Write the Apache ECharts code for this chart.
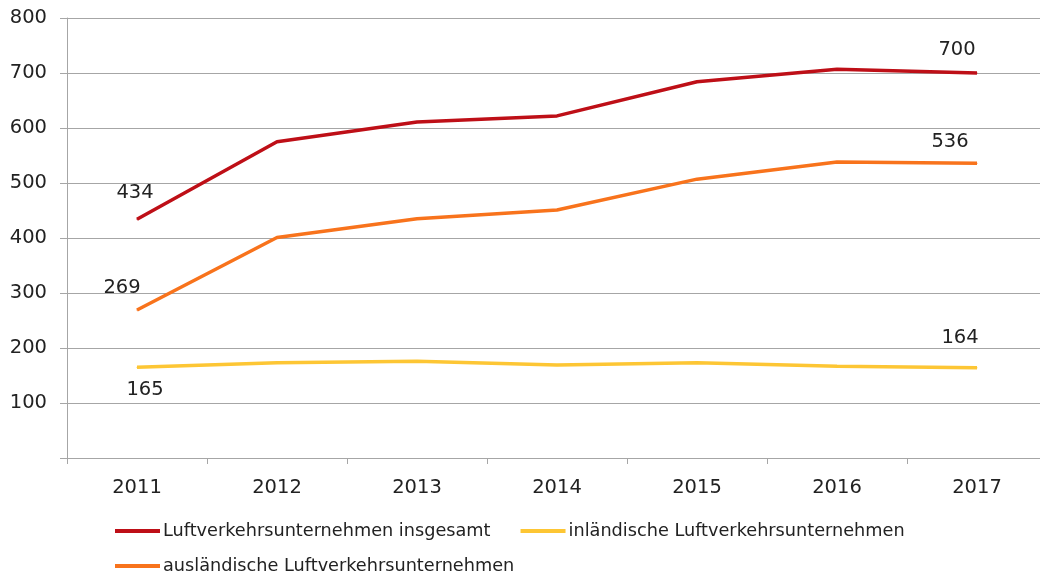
<!DOCTYPE html>
<html>
<head>
<meta charset="utf-8">
<script src="https://cdn.jsdelivr.net/npm/echarts@6/dist/echarts.min.js"></script>
<style>
html,body{margin:0;padding:0;background:#fff;overflow:hidden;width:1040px;height:577px;}
#chart{width:1047px;height:577px;}
</style>
</head>
<body>
<div id="chart"></div>
<script>
var categories = ['2011','2012','2013','2014','2015','2016','2017'];
var seriesNames = ['Luftverkehrsunternehmen insgesamt','inländische Luftverkehrsunternehmen','ausländische Luftverkehrsunternehmen'];
var insgesamt = [434, 575, 611, 622, 684, 707, 700];
var inlaendisch = [165, 173, 176, 169, 173, 167, 164];
var auslaendisch = [269, 401, 435, 451, 507, 538, 536];
var yTicks = [0, 100, 200, 300, 400, 500, 600, 700, 800];

var FONT = '"DejaVu Sans", "Noto Sans", sans-serif';
var LEGEND_FONT = '"DejaVu Sans", "Noto Sans", sans-serif';
var colors = ['#BE0F17', '#FDC634', '#F8731C'];

function withLabels(values, firstOff, lastOff) {
  return values.map(function (v, i) {
    if (i === 0 || i === values.length - 1) {
      return {
        value: v,
        label: {
          show: true,
          position: 'inside',
          offset: i === 0 ? firstOff : lastOff,
          color: '#222',
          fontSize: 19.5,
          fontFamily: FONT
        }
      };
    }
    return v;
  });
}

var chart = echarts.init(document.getElementById('chart'));
chart.setOption({
  animation: false,
  backgroundColor: '#fff',
  grid: { left: 67, top: 18, width: 980, height: 440, containLabel: false },
  legend: [
    {
      data: [seriesNames[0], seriesNames[1]],
      left: 115, top: 522, padding: 0,
      icon: 'rect', itemWidth: 45, itemHeight: 4, itemGap: 30,
      textStyle: { fontSize: 17.7, color: '#222', fontFamily: LEGEND_FONT, padding: [0, 0, 0, -2] }
    },
    {
      data: [seriesNames[2]],
      left: 115, top: 557, padding: 0,
      icon: 'rect', itemWidth: 45, itemHeight: 4,
      textStyle: { fontSize: 17.7, color: '#222', fontFamily: LEGEND_FONT, padding: [0, 0, 0, -2] }
    }
  ],
  xAxis: {
    type: 'category',
    data: categories,
    boundaryGap: true,
    axisLine: { lineStyle: { color: '#A6A6A6', width: 1 } },
    axisTick: { show: true, length: 6, lineStyle: { color: '#A6A6A6' } },
    axisLabel: { fontSize: 19.5, color: '#222', fontFamily: FONT, margin: 20 }
  },
  yAxis: {
    type: 'value',
    min: yTicks[0], max: yTicks[yTicks.length - 1], interval: 100,
    axisLine: { show: true, lineStyle: { color: '#A6A6A6', width: 1 } },
    axisTick: { show: true, length: 7, lineStyle: { color: '#A6A6A6' } },
    splitLine: { lineStyle: { color: '#A6A6A6', width: 1 } },
    axisLabel: {
      fontSize: 19.5, color: '#222', fontFamily: FONT, margin: 20,
      formatter: function (v) { return v === 0 ? '' : String(v); }
    }
  },
  series: [
    {
      name: seriesNames[0], type: 'line', symbol: 'circle', symbolSize: 1, showSymbol: true,
      lineStyle: { width: 3.5, color: colors[0] }, itemStyle: { color: colors[0] },
      data: withLabels(insgesamt, [-2, -26], [-20, -23])
    },
    {
      name: seriesNames[1], type: 'line', symbol: 'circle', symbolSize: 1, showSymbol: true,
      lineStyle: { width: 3.5, color: colors[1] }, itemStyle: { color: colors[1] },
      data: withLabels(inlaendisch, [8, 23], [-17, -30])
    },
    {
      name: seriesNames[2], type: 'line', symbol: 'circle', symbolSize: 1, showSymbol: true,
      lineStyle: { width: 3.5, color: colors[2] }, itemStyle: { color: colors[2] },
      data: withLabels(auslaendisch, [-15, -22], [-27, -21])
    }
  ]
});
</script>
</body>
</html>
